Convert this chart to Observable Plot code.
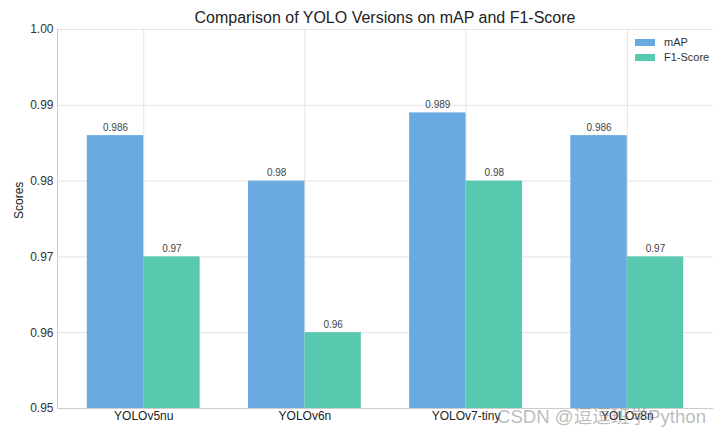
<!DOCTYPE html>
<html>
<head>
<meta charset="utf-8">
<script src="https://cdn.jsdelivr.net/npm/d3@7"></script>
<script src="https://cdn.jsdelivr.net/npm/@observablehq/plot@0.6"></script>
<style>
  body { margin: 0; background: #fff; font-family: "Liberation Sans", Arial, sans-serif; }
  #wrap { position: relative; width: 722px; height: 433px; overflow: hidden; }
  #title { position: absolute; left: 57px; width: 656px; top: 8px; text-align: center; font-size: 16px; color: #222; line-height: 20px; }
  #chart { position: absolute; left: 0; top: 21px; }
  .leg { position: absolute; font-size: 11px; color: #333; line-height: 13px; }
  .sw { position: absolute; width: 20px; height: 7px; }
  #wm { position: absolute; left: 497px; top: 401px; font-size: 18.6px; color: rgba(130,130,130,0.55); font-family: "Liberation Sans", "Noto Sans CJK SC", sans-serif; white-space: nowrap; }
</style>
</head>
<body>
<div id="wrap">
  <div id="title"></div>
  <div id="chart"></div>
  <div id="legend"></div>
  <div id="wm">CSDN @逗逗班学Python</div>
</div>
<script>
const categories = ["YOLOv5nu", "YOLOv6n", "YOLOv7-tiny", "YOLOv8n"];
const seriesNames = ["mAP", "F1-Score"];
const mapValues = [0.986, 0.98, 0.989, 0.986];
const f1Values = [0.97, 0.96, 0.98, 0.97];
const seriesColors = ["#69aae0", "#58c9ae"];
const yTicks = [0.95, 0.96, 0.97, 0.98, 0.99, 1.00];
const titleText = "Comparison of YOLO Versions on mAP and F1-Score";
const yLabel = "Scores";

const barWidth = 0.35;
const rows = [];
categories.forEach((c, i) => {
  rows.push({model: c, i, series: "mAP", value: mapValues[i], off: -barWidth / 2});
  rows.push({model: c, i, series: "F1-Score", value: f1Values[i], off: barWidth / 2});
});

document.getElementById("title").textContent = titleText;

const xMin = -barWidth - 0.185, xMax = categories.length - 1 + barWidth + 0.185;

const chart = Plot.plot({
  width: 722,
  height: 412,
  marginLeft: 57,
  marginRight: 9,
  marginTop: 8,
  marginBottom: 25,
  style: {fontFamily: "Liberation Sans, Arial, sans-serif", background: "transparent"},
  x: {domain: [xMin, xMax], ticks: categories.map((c, i) => i), tickFormat: i => categories[i], tickSize: 0, tickPadding: 3, label: null},
  y: {domain: [0.95, 1.0], ticks: yTicks, tickFormat: d3.format(".2f"), tickSize: 0, tickPadding: 4, label: null},
  color: {domain: seriesNames, range: seriesColors},
  marks: [
    Plot.gridY(yTicks, {stroke: "#e3e3e3", strokeOpacity: 1}),
    Plot.gridX(categories.map((c, i) => i), {stroke: "#e3e3e3", strokeOpacity: 1}),
    Plot.rectY(rows, {x1: d => d.i + d.off - barWidth / 2, x2: d => d.i + d.off + barWidth / 2, y: "value", fill: "series", clip: true}),
    Plot.ruleX([xMin], {stroke: "#cccccc"}),
    Plot.ruleY([0.95], {stroke: "#cccccc"}),
    Plot.axisX({tickSize: 0, tickPadding: 3, fontSize: 12, fill: "#222", tickFormat: i => categories[i], ticks: categories.map((c, i) => i), label: null}),
    Plot.axisY({tickSize: 0, tickPadding: 4, fontSize: 12, fill: "#333", ticks: yTicks, tickFormat: d3.format(".2f"), label: null}),
    Plot.text(rows, {x: d => d.i + d.off, y: "value", text: d => String(d.value), lineAnchor: "bottom", dy: -5, fontSize: 10, fill: "#444"}),
    Plot.text([yLabel], {frameAnchor: "left", rotate: -90, dx: -38, fontSize: 12, fill: "#222"})
  ]
});
document.getElementById("chart").appendChild(chart);

const legend = document.getElementById("legend");
seriesNames.forEach((s, k) => {
  const sw = document.createElement("div");
  sw.className = "sw";
  sw.style.left = "635px";
  sw.style.top = (39 + k * 15) + "px";
  sw.style.background = seriesColors[k];
  legend.appendChild(sw);
  const t = document.createElement("div");
  t.className = "leg";
  t.style.left = "664px";
  t.style.top = (36 + k * 15) + "px";
  t.textContent = s;
  legend.appendChild(t);
});
</script>
</body>
</html>
